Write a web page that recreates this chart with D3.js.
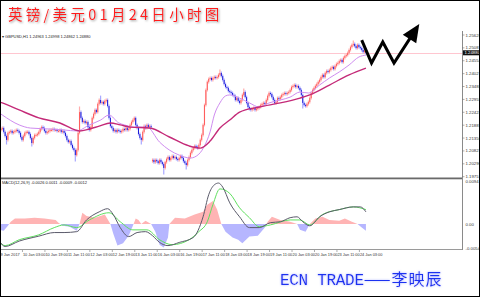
<!DOCTYPE html>
<html>
<head>
<meta charset="utf-8">
<script src="https://cdn.jsdelivr.net/npm/d3@7"></script>
<style>
  body { margin: 0; background: #fff; }
  svg { display: block; }
</style>
</head>
<body>
<script>
// GBPUSD H1, one close per hourly bar (bar 0 = 9 Jan 11:00)
var firstOpen = 1.2165;
var closes = [
  1.2169,1.2173,1.2177,1.2161,1.2144,1.2128,1.2157,1.2161,1.2165,1.2157,
  1.2161,1.2165,1.2169,1.2165,1.2157,1.2140,1.2128,1.2144,1.2157,1.2161,
  1.2161,1.2152,1.2136,1.2115,1.2136,1.2148,1.2148,1.2152,1.2161,1.2173,
  1.2181,1.2177,1.2165,1.2157,1.2161,1.2165,1.2169,1.2169,1.2173,1.2169,
  1.2169,1.2165,1.2165,1.2169,1.2161,1.2165,1.2157,1.2144,1.2128,1.2119,
  1.2123,1.2107,1.2094,1.2086,1.2065,1.2086,1.2157,1.2243,1.2219,1.2202,
  1.2206,1.2198,1.2202,1.2181,1.2169,1.2181,1.2219,1.2235,1.2252,1.2243,
  1.2277,1.2293,1.2281,1.2285,1.2277,1.2289,1.2293,1.2268,1.2219,1.2185,
  1.2177,1.2165,1.2169,1.2161,1.2169,1.2165,1.2161,1.2165,1.2173,1.2169,
  1.2177,1.2169,1.2173,1.2190,1.2202,1.2210,1.2219,1.2190,1.2177,1.2152,
  1.2136,1.2128,1.2161,1.2185,1.2177,1.2190,1.2181,1.2185,1.2181,1.2045,
  1.2036,1.2045,1.2040,1.2032,1.2045,1.2036,1.2028,1.2012,1.2036,1.2049,
  1.2057,1.2045,1.2053,1.2061,1.2053,1.2057,1.2049,1.2045,1.2053,1.2061,
  1.2053,1.2040,1.2032,1.2024,1.2045,1.2057,1.2074,1.2086,1.2094,1.2103,
  1.2099,1.2094,1.2107,1.2128,1.2148,1.2190,1.2272,1.2334,1.2368,1.2380,
  1.2384,1.2376,1.2384,1.2388,1.2384,1.2388,1.2397,1.2405,1.2392,1.2376,
  1.2359,1.2347,1.2343,1.2330,1.2326,1.2322,1.2314,1.2310,1.2293,1.2301,
  1.2289,1.2281,1.2293,1.2314,1.2326,1.2305,1.2281,1.2264,1.2256,1.2252,
  1.2256,1.2260,1.2252,1.2256,1.2260,1.2264,1.2272,1.2277,1.2281,1.2277,
  1.2293,1.2310,1.2322,1.2318,1.2305,1.2293,1.2281,1.2285,1.2301,1.2297,
  1.2305,1.2314,1.2318,1.2322,1.2318,1.2322,1.2326,1.2334,1.2347,1.2351,
  1.2355,1.2347,1.2351,1.2343,1.2334,1.2314,1.2281,1.2272,1.2268,1.2277,
  1.2285,1.2301,1.2322,1.2334,1.2343,1.2351,1.2359,1.2368,1.2376,1.2388,
  1.2397,1.2388,1.2405,1.2413,1.2409,1.2417,1.2425,1.2430,1.2421,1.2434,
  1.2442,1.2446,1.2454,1.2459,1.2450,1.2467,1.2475,1.2479,1.2488,1.2500,
  1.2512,1.2521,1.2525,1.2516,1.2508,1.2521,1.2512,1.2508,1.2500,1.2492,
  1.2496,1.2488
];
// Monday open after the weekend gap
var gapOpen = {109: 1.2040};
// long shadows that stick out of the bodies
var spikeHigh = {57: 1.2260, 72: 1.2305, 157: 1.2413, 174: 1.2334, 252: 1.2533};
var spikeLow = {5: 1.2115, 23: 1.2107, 54: 1.2045, 101: 1.2115, 117: 1.1991, 133: 1.2012, 216: 1.2264};

// moving averages, read at a few bars
var fastBars = [0,2,14,22,36,46,55,64,72,78,85,89,96,105,114,121,128,136,142,146,150,153,157,161,164,171,178,185,192,200,207,214,220,228,235,242,249,256,261];
var fastVals = [1.2239,1.2231,1.2190,1.2177,1.2173,1.2169,1.2165,1.2190,1.2210,1.2231,
  1.2198,1.2190,1.2181,1.2181,1.2119,1.2086,1.2065,1.2053,1.2069,1.2103,
  1.2161,1.2231,1.2281,1.2310,1.2314,1.2301,1.2281,1.2264,1.2281,1.2293,
  1.2305,1.2326,1.2322,1.2355,1.2384,1.2409,1.2438,1.2471,1.2479];
var slowBars = [0,2,14,28,43,54,57,64,71,79,86,93,107,121,135,143,150,157,164,171,185,200,214,221,235,249,261];
var slowVals = [1.2285,1.2281,1.2252,1.2219,1.2198,1.2169,1.2165,1.2173,1.2185,1.2198,
  1.2190,1.2181,1.2177,1.2140,1.2103,1.2094,1.2123,1.2177,1.2210,1.2243,
  1.2264,1.2281,1.2301,1.2314,1.2355,1.2397,1.2425];

// MACD panel
var histBars = [0,3,6,8,11,18,25,32,40,42,45,50,55,57,59,62,68,75,79,81,84,88,92,95,97,99,101,104,108,111,
  114,117,120,121,125,132,139,145,148,152,155,158,161,166,170,173,178,184,189,191,194,200,207,212,214,218,221,225,230,235,
  242,246,251,255,258,261];
var histVals = [-0.0013,-0.0015,-0.0004,0.0005,0.0012,0.0012,0.0014,0.0012,0.0009,0.0003,
  -0.0004,-0.0006,-0.0015,0.0000,0.0025,0.0018,0.0014,0.0021,0.0000,-0.0021,
  -0.0048,-0.0043,-0.0026,-0.0004,0.0012,0.0009,0.0000,0.0007,0.0000,-0.0017,
  -0.0046,-0.0052,-0.0030,0.0000,0.0014,0.0012,0.0021,0.0027,0.0043,0.0051,
  0.0032,0.0000,-0.0017,-0.0030,-0.0035,-0.0043,-0.0028,-0.0026,-0.0008,0.0005,
  0.0016,0.0009,0.0005,0.0000,-0.0013,-0.0017,0.0000,0.0012,0.0016,0.0009,
  0.0007,0.0012,0.0005,0.0000,-0.0008,-0.0015];
var macdBars = [0,4,14,28,39,46,55,62,71,77,81,86,92,98,104,109,114,120,128,138,145,149,153,156,159,164,171,178,185,193,200,207,212,216,221,228,235,242,252,257,261];
var macdMain = [-0.0038,-0.0050,-0.0038,-0.0027,-0.0019,-0.0019,-0.0017,0.0009,0.0027,0.0034,
  0.0021,-0.0008,-0.0028,-0.0019,-0.0017,-0.0026,-0.0041,-0.0048,-0.0041,-0.0030,
  0.0016,0.0065,0.0087,0.0091,0.0082,0.0047,0.0016,-0.0008,-0.0008,0.0003,
  0.0005,0.0014,0.0016,0.0005,-0.0004,0.0016,0.0027,0.0032,0.0038,0.0038,0.0027];
var signalBars = [0,4,14,28,39,46,55,64,78,86,95,105,114,123,135,142,148,152,157,164,171,178,185,193,207,214,221,230,242,252,261];
var signalVals = [-0.0041,-0.0048,-0.0035,-0.0024,-0.0008,-0.0002,-0.0008,0.0009,0.0025,0.0005,
  -0.0013,-0.0013,-0.0035,-0.0046,-0.0035,-0.0017,0.0005,0.0043,0.0078,0.0068,
  0.0036,0.0014,-0.0006,-0.0002,0.0009,0.0009,-0.0002,0.0021,0.0032,0.0038,0.0032];

// axes
var priceTicks = [1.25620,1.25087,1.24554,1.24021,1.23488,1.22955,1.22422,1.21889,1.21356,1.20823,1.20290,1.19757];
var macdTicks = [0.0094, 0.0, -0.0054];
var macdTickLabels = ["0.0094", "0.00", "-0.0054"];
var timeLabels = ["9 Jan 2017","10 Jan 03:00","10 Jan 19:00","11 Jan 11:00","12 Jan 03:00","12 Jan 19:00",
  "13 Jan 11:00","16 Jan 03:00","16 Jan 19:00","17 Jan 11:00","18 Jan 03:00","18 Jan 19:00",
  "19 Jan 11:00","20 Jan 03:00","20 Jan 19:00","23 Jan 11:00","24 Jan 03:00"];
var barsPerLabel = 16;

// hand drawn zig-zag arrow, in bar / price units
var arrowBars = [258, 265, 273, 281, 299];
var arrowPrices = [1.2541, 1.2446, 1.2533, 1.2446, 1.2608];

var w = 480;
var h = 297;
var axisX = 462;

var svg = d3.select("body").append("svg")
    .attr("width", w)
    .attr("height", h)
    .style("font-family", "'Liberation Sans', Arial, sans-serif");

var defs = svg.append("defs");
var glow = defs.append("filter").attr("id", "glow")
    .attr("x", "-10%").attr("y", "-30%").attr("width", "120%").attr("height", "160%");
glow.append("feGaussianBlur").attr("in", "SourceAlpha").attr("stdDeviation", 1).attr("result", "b");
glow.append("feOffset").attr("in", "b").attr("dx", 1).attr("dy", 1.2).attr("result", "o");
glow.append("feFlood").attr("flood-color", "#9a9a9a");
glow.append("feComposite").attr("in2", "o").attr("operator", "in").attr("result", "s");
var gm = glow.append("feMerge");
gm.append("feMergeNode").attr("in", "s");
gm.append("feMergeNode").attr("in", "SourceGraphic");

var glowBlue = defs.append("filter").attr("id", "glowBlue")
    .attr("x", "-10%").attr("y", "-30%").attr("width", "120%").attr("height", "160%");
glowBlue.append("feGaussianBlur").attr("in", "SourceAlpha").attr("stdDeviation", 1.1).attr("result", "b");
glowBlue.append("feFlood").attr("flood-color", "#aab4ff");
glowBlue.append("feComposite").attr("in2", "b").attr("operator", "in").attr("result", "s");
var gb = glowBlue.append("feMerge");
gb.append("feMergeNode").attr("in", "s");
gb.append("feMergeNode").attr("in", "SourceGraphic");

// scales
var x = d3.scaleLinear().domain([0, 329]).range([-0.5, 461.4]);
var y = d3.scaleLinear().domain([priceTicks[priceTicks.length - 1], priceTicks[0]]).range([176.7, 35]);
var ym = d3.scaleLinear().domain([-0.0054, 0.0094]).range([248.3, 181.7]);

// current price line
var lastPrice = closes[closes.length - 1];
svg.append("line")
    .attr("x1", 0).attr("x2", axisX)
    .attr("y1", Math.round(y(lastPrice)) + 0.5).attr("y2", Math.round(y(lastPrice)) + 0.5)
    .style("stroke", "#ffc6d0").style("stroke-width", 1);

// candles
var candles = closes.map(function (c, i) {
    var o = i === 0 ? firstOpen : (gapOpen[i] || closes[i - 1]);
    return {
        i: i, o: o, c: c,
        h: spikeHigh[i] || Math.max(o, c),
        l: spikeLow[i] || Math.min(o, c)
    };
});

var cg = svg.append("g");
cg.selectAll(".wick")
    .data(candles)
    .enter().append("line")
    .attr("class", "wick")
    .attr("x1", d => x(d.i)).attr("x2", d => x(d.i))
    .attr("y1", d => y(d.h) - 1.5)
    .attr("y2", d => y(d.l) + 1.5)
    .style("stroke", d => d.c >= d.o ? "#ffabab" : "#a8a8ff")
    .style("stroke-width", 1.2);

cg.selectAll(".body")
    .data(candles)
    .enter().append("rect")
    .attr("class", "body")
    .attr("x", d => x(d.i) - 0.5)
    .attr("width", 1)
    .attr("y", d => y(Math.max(d.o, d.c)))
    .attr("height", d => Math.max(1, Math.abs(y(d.o) - y(d.c))))
    .style("fill", d => d.c >= d.o ? "#ff5c5c" : "#1c1cd6");

// moving averages
var maLine = d3.line().curve(d3.curveMonotoneX);
svg.append("path")
    .attr("d", maLine(fastBars.map((b, i) => [x(b), y(fastVals[i])])))
    .style("fill", "none").style("stroke", "#cf8cf0").style("stroke-width", 1);
svg.append("path")
    .attr("d", maLine(slowBars.map((b, i) => [x(b), y(slowVals[i])])))
    .style("fill", "none").style("stroke", "#c42a78").style("stroke-width", 1.4);

// info line
svg.append("text")
    .attr("x", 2).attr("y", 38)
    .attr("font-size", "4px").style("fill", "#222")
    .text("\u25BE GBPUSD,H1  1.24963 1.24998 1.24862 1.24880");

// panel separator
svg.append("rect")
    .attr("x", 0).attr("y", 177.5).attr("width", axisX).attr("height", 1.8)
    .style("fill", "#6a6a6a");

// MACD histogram as filled area, pink above zero and blue below
var zeroY = ym(0);
defs.append("clipPath").attr("id", "above")
    .append("rect").attr("x", 0).attr("y", 179).attr("width", axisX).attr("height", zeroY - 179);
defs.append("clipPath").attr("id", "below")
    .append("rect").attr("x", 0).attr("y", zeroY).attr("width", axisX).attr("height", 250 - zeroY);

var histArea = d3.area()
    .x(d => x(d[0]))
    .y0(zeroY)
    .y1(d => ym(d[1]));
var histData = histBars.map((b, i) => [b, histVals[i]]);
svg.append("path").attr("d", histArea(histData))
    .attr("clip-path", "url(#above)")
    .style("fill", "#ffb4b4");
svg.append("path").attr("d", histArea(histData))
    .attr("clip-path", "url(#below)")
    .style("fill", "#b6b6ff");

var mLine = d3.line().curve(d3.curveMonotoneX);
svg.append("path")
    .attr("d", mLine(signalBars.map((b, i) => [x(b), ym(signalVals[i])])))
    .style("fill", "none").style("stroke", "#5fe05f").style("stroke-width", 1);
svg.append("path")
    .attr("d", mLine(macdBars.map((b, i) => [x(b), ym(macdMain[i])])))
    .style("fill", "none").style("stroke", "#5a5a6a").style("stroke-width", 1);

svg.append("text")
    .attr("x", 2).attr("y", 184)
    .attr("font-size", "4px").style("fill", "#222")
    .text("MACD(12,26,9) -0.0026 0.0011 -0.0009 -0.0012");

// frame bottom
svg.append("line")
    .attr("x1", 0).attr("x2", axisX + 0.5).attr("y1", 249.5).attr("y2", 249.5)
    .style("stroke", "#9a9a9a").style("stroke-width", 1);

// right price axis
svg.append("line")
    .attr("x1", axisX + 0.5).attr("x2", axisX + 0.5).attr("y1", 31).attr("y2", 250)
    .style("stroke", "#8a8a8a").style("stroke-width", 1);

var pa = svg.append("g");
pa.selectAll(".ptick")
    .data(priceTicks)
    .enter().append("line")
    .attr("x1", axisX).attr("x2", axisX + 2.5)
    .attr("y1", d => y(d)).attr("y2", d => y(d))
    .style("stroke", "#777").style("stroke-width", 0.6);
pa.selectAll(".plabel")
    .data(priceTicks)
    .enter().append("text")
    .attr("x", axisX + 3.5)
    .attr("y", d => y(d) + 1.5)
    .attr("font-size", "4.3px")
    .style("fill", "#333")
    .text(d => d3.format(".5f")(d));

// current price box
pa.append("rect")
    .attr("x", axisX + 1).attr("y", y(lastPrice) - 2.6)
    .attr("width", 16).attr("height", 5)
    .style("fill", "#111");
pa.append("text")
    .attr("x", axisX + 2.5).attr("y", y(lastPrice) + 1.5)
    .attr("font-size", "4.3px").style("fill", "#fff")
    .text(d3.format(".5f")(lastPrice));

// MACD axis labels
pa.selectAll(".mlabel")
    .data(macdTicks)
    .enter().append("text")
    .attr("x", axisX + 3.5)
    .attr("y", d => ym(d) + 1.5)
    .attr("font-size", "4.3px")
    .style("fill", "#333")
    .text((d, i) => macdTickLabels[i]);

// time axis
var ta = svg.append("g");
ta.selectAll(".tlabel")
    .data(timeLabels)
    .enter().append("text")
    .attr("x", (d, i) => x(i * barsPerLabel) + 1)
    .attr("y", 256)
    .attr("font-size", "3.9px")
    .style("fill", "#333")
    .text(d => d);
ta.selectAll(".ttick")
    .data(timeLabels)
    .enter().append("line")
    .attr("x1", (d, i) => x(i * barsPerLabel) + 0.5)
    .attr("x2", (d, i) => x(i * barsPerLabel) + 0.5)
    .attr("y1", 250).attr("y2", 252)
    .style("stroke", "#777").style("stroke-width", 0.6);

// zig-zag arrow
var ap = arrowBars.map((b, i) => [x(b), y(arrowPrices[i])]);
var tip = ap[ap.length - 1];
var prev = ap[ap.length - 2];
var dx = tip[0] - prev[0], dy = tip[1] - prev[1];
var len = Math.sqrt(dx * dx + dy * dy);
var ux = dx / len, uy = dy / len;
var headLen = 18, headHalf = 8;
var base = [tip[0] - ux * headLen, tip[1] - uy * headLen];
var linePts = ap.slice(0, -1).concat([[base[0] + ux * 2, base[1] + uy * 2]]);
svg.append("path")
    .attr("d", d3.line()(linePts))
    .style("fill", "none").style("stroke", "#000").style("stroke-width", 3)
    .style("stroke-linejoin", "miter");
svg.append("path")
    .attr("d", d3.line()([tip,
        [base[0] - uy * headHalf, base[1] + ux * headHalf],
        [base[0] + uy * headHalf, base[1] - ux * headHalf]]) + "Z")
    .style("fill", "#000");

// title
svg.append("text")
    .attr("x", 8).attr("y", 19.5)
    .attr("font-size", "14.5px")
    .attr("letter-spacing", "3.3px")
    .attr("filter", "url(#glow)")
    .style("font-family", "'Noto Sans CJK SC', sans-serif")
    .style("fill", "#ff1c1c")
    .text("英镑/美元01月24日小时图");

// signature
var sig = svg.append("text")
    .attr("x", 280).attr("y", 284.5)
    .attr("filter", "url(#glowBlue)")
    .style("fill", "#1f33f0");
sig.append("tspan")
    .style("font-family", "'Liberation Mono', monospace")
    .attr("font-size", "16px")
    .attr("letter-spacing", "-0.3px")
    .text("ECN TRADE");
sig.append("tspan")
    .style("font-family", "'Noto Sans CJK SC', sans-serif")
    .attr("font-size", "16px")
    .attr("letter-spacing", "1px")
    .text("——李映辰");

// outer border
svg.append("rect")
    .attr("x", 0.5).attr("y", 0.5).attr("width", w - 1).attr("height", h - 1)
    .style("fill", "none").style("stroke", "#000").style("stroke-width", 1);
</script>
</body>
</html>
